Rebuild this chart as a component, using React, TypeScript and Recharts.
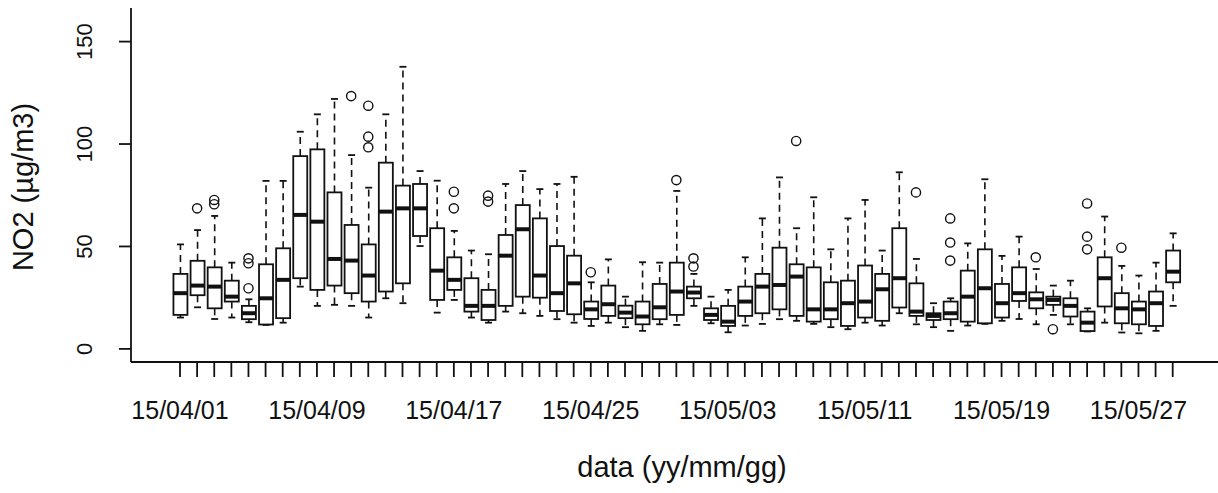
import React from 'react';
import { ComposedChart, Bar, Scatter, XAxis, YAxis } from 'recharts';

// daily NO2 distributions, April 1 - May 29 2015
const dates = [
  '15/04/01', '15/04/02', '15/04/03', '15/04/04', '15/04/05', '15/04/06', '15/04/07', '15/04/08',
  '15/04/09', '15/04/10', '15/04/11', '15/04/12', '15/04/13', '15/04/14', '15/04/15', '15/04/16',
  '15/04/17', '15/04/18', '15/04/19', '15/04/20', '15/04/21', '15/04/22', '15/04/23', '15/04/24',
  '15/04/25', '15/04/26', '15/04/27', '15/04/28', '15/04/29', '15/04/30', '15/05/01', '15/05/02',
  '15/05/03', '15/05/04', '15/05/05', '15/05/06', '15/05/07', '15/05/08', '15/05/09', '15/05/10',
  '15/05/11', '15/05/12', '15/05/13', '15/05/14', '15/05/15', '15/05/16', '15/05/17', '15/05/18',
  '15/05/19', '15/05/20', '15/05/21', '15/05/22', '15/05/23', '15/05/24', '15/05/25', '15/05/26',
  '15/05/27', '15/05/28', '15/05/29',
];

const whiskerLow = [
  15.3, 20.3, 14.6, 15.3, 13, 11.7, 12.8, 30.4, 21, 21.5, 21, 15.3, 24.7, 22.3, 50.2, 17.7,
  23.9, 15.3, 12.8, 18.2, 17.4, 16.1, 14.5, 12.8, 11.2, 12.8, 10.6, 8.8, 12, 11.7, 21, 12.5,
  8.1, 11.4, 12.2, 14.5, 13.7, 12.2, 10.6, 9.6, 12.8, 11.4, 17.4, 12, 10.6, 8.8, 11.4, 12.2,
  13.7, 14.6, 12, 16.6, 12, 8.5, 12.8, 8, 7.6, 8.8, 21,
];
const quartile1 = [
  16.6, 26.2, 19.8, 23.1, 14.5, 11.9, 15, 34.5, 28.8, 30.9, 27.2, 23.1, 28, 32, 55.1, 23.9,
  28.8, 18.2, 14.1, 21, 25.5, 25, 18.5, 16.9, 14.6, 16.1, 15, 12, 14.5, 16.6, 24.7, 14.1,
  11.2, 16.1, 17.4, 19.3, 16.1, 13.3, 14.5, 11.2, 15.3, 13.7, 20.2, 16.1, 14.1, 14.5, 13.3, 12.5,
  15.3, 23.4, 19.8, 21.5, 15.8, 8.7, 20.7, 12.5, 12, 11.2, 32.5,
];
const median = [
  27.2, 30.9, 30.4, 25.5, 17.4, 24.7, 33.7, 65.4, 62.1, 43.9, 43.1, 35.8, 67, 68.6, 68.6, 38.2,
  33.7, 21, 21, 45.5, 58.4, 35.8, 27.2, 32, 19.3, 21.8, 17.7, 15.8, 20.3, 28, 27.5, 16.6,
  13.3, 23.1, 30.4, 31.2, 35.3, 19.3, 19.3, 22.3, 23.1, 29.1, 34.5, 18.2, 16.1, 17.4, 25.5, 29.6,
  22.3, 27.2, 24.2, 23.9, 21, 12.8, 34.5, 19.8, 19.3, 22.3, 37.7,
];
const quartile3 = [
  36.6, 43, 39.8, 33.3, 21, 41.3, 49.1, 94.1, 97.4, 76.4, 60.5, 51, 90.9, 79.7, 80.5, 58.9,
  44.7, 34.5, 28.8, 55.6, 70.2, 63.7, 50.2, 45.5, 23.1, 30.9, 21.1, 23.1, 31.7, 42.1, 30.4, 19.8,
  21, 30.4, 36.6, 49.4, 41.3, 39.8, 32.5, 33.3, 40.7, 36.6, 58.9, 32, 17.4, 23.1, 38.2, 48.6,
  31.7, 39.8, 27.6, 25.5, 24.7, 18.2, 44.7, 27.2, 23.1, 28, 48,
];
const whiskerHigh = [
  51, 58, 64.9, 42.1, 24.2, 82, 82, 106, 114.5, 122, 94.6, 78.7, 114.5, 137.7, 86.8, 82.1,
  57.6, 48, 46.2, 80.5, 86.8, 78, 80.5, 84, 32.5, 43.7, 25.5, 42.3, 42.1, 77.1, 36.6, 25.5,
  28.8, 44.7, 63.7, 83.7, 58.9, 74, 48.6, 63.7, 72.7, 48, 86.2, 43.9, 22.3, 24.7, 51.5, 82.8,
  45.4, 54.8, 39, 30.9, 33.3, 19.8, 64.6, 40.5, 35.8, 42.1, 56.4,
];

const outlierDate = [
  '15/04/02', '15/04/03', '15/04/03', '15/04/05', '15/04/05', '15/04/05', '15/04/11', '15/04/12',
  '15/04/12', '15/04/12', '15/04/17', '15/04/17', '15/04/19', '15/04/19', '15/04/25', '15/04/30',
  '15/05/01', '15/05/01', '15/05/07', '15/05/14', '15/05/16', '15/05/16', '15/05/16', '15/05/21',
  '15/05/22', '15/05/24', '15/05/24', '15/05/24', '15/05/26',
];
const outlierValue = [
  68.6, 72.7, 70.6, 44.2, 41.8, 29.6, 123.4, 118.7,
  103.6, 98.4, 76.7, 68.6, 74.8, 71.9, 37.4, 82.4,
  44.2, 40.2, 101.5, 76.4, 63.7, 51.9, 43.1, 44.7,
  9.6, 71, 54.8, 48.6, 49.4,
];

const yTicks = [0, 50, 100, 150];

const rows = dates.map((date, i) => ({
  pos: i + 1,
  date,
  range: [whiskerLow[i], whiskerHigh[i]],
  lo: whiskerLow[i],
  q1: quartile1[i],
  med: median[i],
  q3: quartile3[i],
  hi: whiskerHigh[i],
}));

const outlierRows = outlierDate.map((d, k) => ({
  pos: dates.indexOf(d) + 1,
  value: outlierValue[k],
}));

const FONT = '"Liberation Sans", Arial, sans-serif';
const INK = '#111';

// draws one R-style box from the whisker range bar; inner stats are placed on the same scale
function BoxShape(props: any) {
  const { x, y, width, height, payload } = props;
  const { lo, hi, q1, med, q3 } = payload;
  const py = (v: number) => y + (height * (hi - v)) / (hi - lo);
  const cx = x + width / 2;
  const cap = width / 4;
  return (
    <g>
      <line x1={cx} x2={cx} y1={py(q3)} y2={py(hi)} stroke={INK} strokeWidth={1.6} strokeDasharray="7 5" />
      <line x1={cx} x2={cx} y1={py(q1)} y2={py(lo)} stroke={INK} strokeWidth={1.6} strokeDasharray="7 5" />
      <line x1={cx - cap} x2={cx + cap} y1={py(hi)} y2={py(hi)} stroke={INK} strokeWidth={1.8} />
      <line x1={cx - cap} x2={cx + cap} y1={py(lo)} y2={py(lo)} stroke={INK} strokeWidth={1.8} />
      <rect x={x} y={py(q3)} width={width} height={py(q1) - py(q3)} fill="#fff" stroke={INK} strokeWidth={1.8} />
      <line x1={x} x2={x + width} y1={py(med)} y2={py(med)} stroke={INK} strokeWidth={4} />
    </g>
  );
}

function OutlierShape(props: any) {
  return <circle cx={props.cx} cy={props.cy} r={4.6} fill="none" stroke={INK} strokeWidth={1.4} />;
}

function DateTick(props: any) {
  const { x, y, payload } = props;
  const i = payload.value - 1;
  if (i % 8 !== 0) return null;
  return (
    <text x={x} y={y + 42} textAnchor="middle" fontSize={25} fontFamily={FONT} fill={INK}>
      {dates[i]}
    </text>
  );
}

function ValueTick(props: any) {
  const { x, y, payload } = props;
  const tx = x - 27;
  return (
    <text x={tx} y={y} transform={`rotate(-90, ${tx}, ${y})`} textAnchor="middle" fontSize={22} fontFamily={FONT} fill={INK}>
      {payload.value}
    </text>
  );
}

export default function App() {
  return (
    <div style={{ position: 'relative', width: 1218, height: 493, background: '#fff' }}>
      <style>{'body{margin:0;overflow:hidden;}'}</style>
      <ComposedChart width={1218} height={493} data={rows} margin={{ top: 8, right: 0, bottom: 0, left: 0 }}>
        <XAxis
          dataKey="pos"
          type="number"
          domain={[-1.863, 61.647]}
          ticks={rows.map((r) => r.pos)}
          interval={0}
          allowDataOverflow
          height={131}
          tickSize={15}
          tickMargin={0}
          axisLine={{ stroke: INK, strokeWidth: 1.8 }}
          tickLine={{ stroke: INK, strokeWidth: 1.8 }}
          tick={<DateTick />}
        />
        <XAxis
          xAxisId="top"
          orientation="top"
          dataKey="pos"
          type="number"
          domain={[-1.863, 61.647]}
          height={0}
          tick={false}
          tickLine={false}
          axisLine={{ stroke: INK, strokeWidth: 1.8 }}
        />
        <YAxis
          type="number"
          domain={[-6.4, 166.4]}
          ticks={yTicks}
          interval={0}
          allowDataOverflow
          width={131}
          tickSize={12}
          tickMargin={0}
          axisLine={{ stroke: INK, strokeWidth: 1.8 }}
          tickLine={{ stroke: INK, strokeWidth: 1.8 }}
          tick={<ValueTick />}
        />
        <Bar dataKey="range" barSize={14} shape={<BoxShape />} isAnimationActive={false} />
        <Scatter data={outlierRows} dataKey="value" shape={<OutlierShape />} isAnimationActive={false} />
      </ComposedChart>
      <svg width={1218} height={493} style={{ position: 'absolute', left: 0, top: 0, pointerEvents: 'none' }}>
        <text x={33} y={187} transform="rotate(-90, 33, 187)" textAnchor="middle" fontSize={29} fontFamily={FONT} fill={INK}>
          NO2 (µg/m3)
        </text>
        <text x={682} y={477} textAnchor="middle" fontSize={29} fontFamily={FONT} fill={INK}>
          data (yy/mm/gg)
        </text>
      </svg>
    </div>
  );
}
